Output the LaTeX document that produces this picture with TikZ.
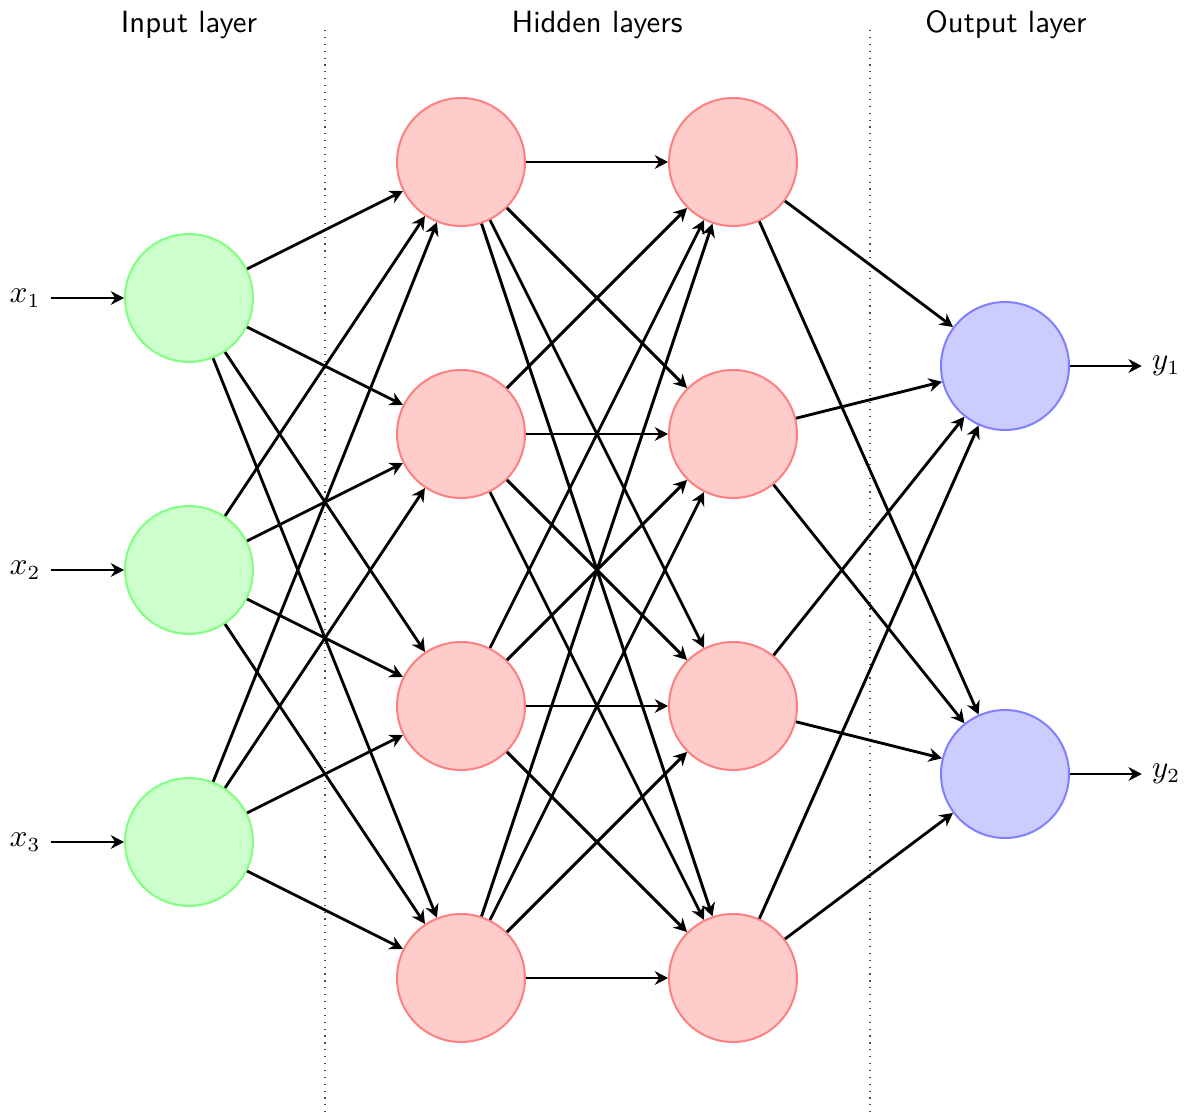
\documentclass[tikz,border=0pt]{standalone}
\usetikzlibrary{arrows.meta}
\begin{document}
\begin{tikzpicture}[x=0.3485pt,y=-0.3485pt,
  neuron/.style={circle,minimum size=44.6pt,inner sep=0pt,line width=0.7pt},
  inneuron/.style={neuron,draw=green!50,fill=green!20},
  hidneuron/.style={neuron,draw=red!50,fill=red!20},
  outneuron/.style={neuron,draw=blue!50,fill=blue!20},
  conn/.style={line width=1pt,-{Stealth[length=4.6pt,width=4.8pt,inset=1.5pt]}},
  title/.style={font=\sffamily\fontsize{10.7}{13}\selectfont},
  lab/.style={font=\fontsize{10.5}{13}\selectfont},
  sep/.style={dotted,line width=0.4pt,black!70}]
\useasboundingbox (0,0) rectangle (1190,1115);
% titles
\node[title] (tin) at (189,25) {Input layer};
\node[title] (thid) at (597,25) {Hidden layers};
\node[title] (tout) at (1006,25) {Output layer};
% separators
\draw[sep] (325,30) -- (325,1115);
\draw[sep] (870,30) -- (870,1115);
% input neurons
\foreach \i/\y in {1/298,2/570,3/842}{
  \node[inneuron] (I\i) at (189,\y) {};
  \node[lab] (x\i) at (25,\y) {$x_{\i}$};
  \draw[conn] (x\i) -- (I\i);
}
% hidden neurons
\foreach \i/\y in {1/162,2/434,3/706,4/978}{
  \node[hidneuron] (A\i) at (461,\y) {};
  \node[hidneuron] (B\i) at (733,\y) {};
}
% output neurons
\foreach \i/\y in {1/366,2/774}{
  \node[outneuron] (O\i) at (1005,\y) {};
  \node[lab] (y\i) at (1166,\y) {$y_{\i}$};
  \draw[conn] (O\i) -- (y\i);
}
% connections
\foreach \s in {1,2,3}{
  \foreach \t in {1,2,3,4}{
    \draw[conn] (I\s) -- (A\t);
  }
}
\foreach \s in {1,2,3,4}{
  \foreach \t in {1,2,3,4}{
    \draw[conn] (A\s) -- (B\t);
  }
}
\foreach \s in {1,2,3,4}{
  \foreach \t in {1,2}{
    \draw[conn] (B\s) -- (O\t);
  }
}
\end{tikzpicture}
\end{document}
